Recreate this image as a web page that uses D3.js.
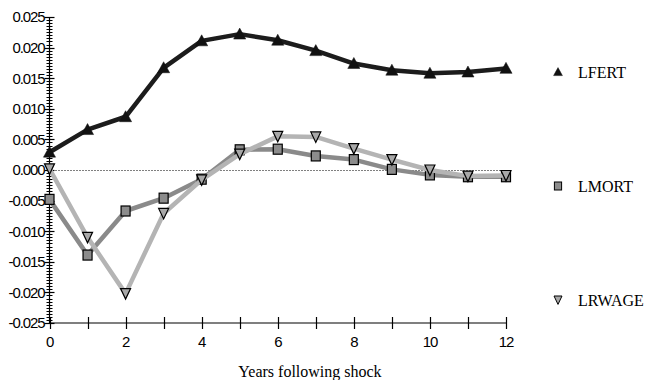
<!DOCTYPE html>
<html><head><meta charset="utf-8">
<script src="https://cdn.jsdelivr.net/npm/d3@7"></script>
<style>
body{margin:0;background:#fff;}
svg{display:block;}
</style></head>
<body>
<script>
const years = [0,1,2,3,4,5,6,7,8,9,10,11,12];
const LFERT  = [0.0029,0.0066,0.0087,0.0167,0.0211,0.0222,0.0212,0.0195,0.0174,0.0163,0.0158,0.0160,0.0166];
const LMORT  = [-0.0048,-0.0139,-0.0067,-0.0046,-0.0015,0.0033,0.0034,0.0023,0.0017,0.0001,-0.0008,-0.0011,-0.0011];
const LRWAGE = [0.0002,-0.0110,-0.0202,-0.0071,-0.0016,0.0026,0.0055,0.0054,0.0035,0.0017,0.0000,-0.0010,-0.0009];
const seriesNames = ["LFERT","LMORT","LRWAGE"];
const yTickValues = [0.025,0.020,0.015,0.010,0.005,0.000,-0.005,-0.010,-0.015,-0.020,-0.025];
const xTickValues = [0,1,2,3,4,5,6,7,8,9,10,11,12];
const xLabelValues = [0,2,4,6,8,10,12];
const xTitle = "Years following shock";

const W=647,H=380;
const svg=d3.select("body").append("svg").attr("width",W).attr("height",H);
const x=d3.scaleLinear().domain([0,12]).range([49.5,506]);
const y=d3.scaleLinear().domain([-0.025,0.025]).range([323,17]);

// zero dotted line
svg.append("line").attr("x1",x(0)).attr("x2",x(12)).attr("y1",Math.round(y(0))+0.5).attr("y2",Math.round(y(0))+0.5)
  .attr("stroke","#000").attr("stroke-width",1).attr("stroke-dasharray","1,2");

// y axis
const yAxisG=svg.append("g").attr("transform",`translate(${x(0)},0)`);
yAxisG.append("line").attr("x1",0).attr("x2",0).attr("y1",y(0.025)).attr("y2",y(-0.025)).attr("stroke","#000").attr("stroke-width",1.2);
const minor=d3.range(-50,51).map(d=>d*0.0005);
yAxisG.selectAll("line.minor").data(minor).join("line").attr("class","minor")
  .attr("x1",-3).attr("x2",3).attr("y1",d=>Math.round(y(d))+0.5).attr("y2",d=>Math.round(y(d))+0.5)
  .attr("stroke","#000").attr("stroke-width",1);
yAxisG.selectAll("line.major").data(yTickValues).join("line").attr("class","major")
  .attr("x1",-5).attr("x2",5).attr("y1",d=>Math.round(y(d))+0.5).attr("y2",d=>Math.round(y(d))+0.5)
  .attr("stroke","#000").attr("stroke-width",1.2);
yAxisG.selectAll("text").data(yTickValues).join("text")
  .attr("x",-5).attr("y",d=>y(d)).attr("dy","0.36em").attr("text-anchor","end")
  .attr("font-family","Liberation Sans, Arial, sans-serif").attr("font-size",15).attr("letter-spacing","-1.1")
  .attr("fill","#000").text(d=>d3.format(".3f")(d).replace("−","-"));

// x axis
const xAxisG=svg.append("g").attr("transform",`translate(0,${y(-0.025)})`);
xAxisG.append("line").attr("x1",x(0)).attr("x2",x(12)).attr("y1",0).attr("y2",0).attr("stroke","#000").attr("stroke-width",1.2);
xAxisG.selectAll("line.t").data(xTickValues).join("line").attr("class","t")
  .attr("x1",d=>Math.round(x(d))+0.5).attr("x2",d=>Math.round(x(d))+0.5).attr("y1",-6).attr("y2",6)
  .attr("stroke","#000").attr("stroke-width",1.2);
xAxisG.selectAll("text").data(xLabelValues).join("text")
  .attr("x",d=>x(d)).attr("y",24).attr("text-anchor","middle")
  .attr("font-family","Liberation Sans, Arial, sans-serif").attr("font-size",15).attr("letter-spacing","-1.1")
  .attr("fill","#000").text(d=>d);
svg.append("text").attr("x",310).attr("y",377).attr("text-anchor","middle")
  .attr("font-family","Liberation Serif, Times New Roman, serif").attr("font-size",16).attr("fill","#000").text(xTitle);

const series=[
  {name:seriesNames[0],vals:LFERT,line:"#1c1c1c",fill:"#111",stroke:"#111",shape:"up"},
  {name:seriesNames[1],vals:LMORT,line:"#8a8a8a",fill:"#8c8c8c",stroke:"#000",shape:"sq"},
  {name:seriesNames[2],vals:LRWAGE,line:"#b4b4b4",fill:"#a8a8a8",stroke:"#000",shape:"down"}
];
const lineGen=d3.line().x((d,i)=>x(years[i])).y(d=>y(d));
function marker(g,shape,s){
  if(shape==="up") return g.append("path").attr("d",`M0,${-s*0.55}L${s*0.55},${s*0.45}L${-s*0.55},${s*0.45}Z`);
  if(shape==="down") return g.append("path").attr("d",`M${-s*0.5},${-s*0.5}L${s*0.5},${-s*0.5}L0,${s*0.55}Z`);
  return g.append("rect").attr("x",-s*0.45).attr("y",-s*0.5).attr("width",s*0.9).attr("height",s);
}
series.forEach(s=>{
  svg.append("path").datum(s.vals).attr("d",lineGen).attr("fill","none").attr("stroke",s.line)
    .attr("stroke-width",4.5).attr("stroke-linejoin","round");
  s.vals.forEach((v,i)=>{
    const g=svg.append("g").attr("transform",`translate(${x(years[i])},${y(v)})`);
    marker(g,s.shape,s.shape==="up"?11:10).attr("fill",s.fill).attr("stroke",s.stroke).attr("stroke-width",s.shape==="up"?0.5:1.2);
  });
});

// legend
const legY=[72,186,300];
series.forEach((s,i)=>{
  const g=svg.append("g").attr("transform",`translate(558,${legY[i]})`);
  marker(g,s.shape,8).attr("fill",s.fill).attr("stroke",s.stroke).attr("stroke-width",s.shape==="up"?0.5:1);
  svg.append("text").attr("x",578).attr("y",legY[i]).attr("dy","0.35em")
    .attr("font-family","Liberation Serif, Times New Roman, serif").attr("font-size",16).attr("fill","#000").text(s.name);
});
</script>
</body></html>
